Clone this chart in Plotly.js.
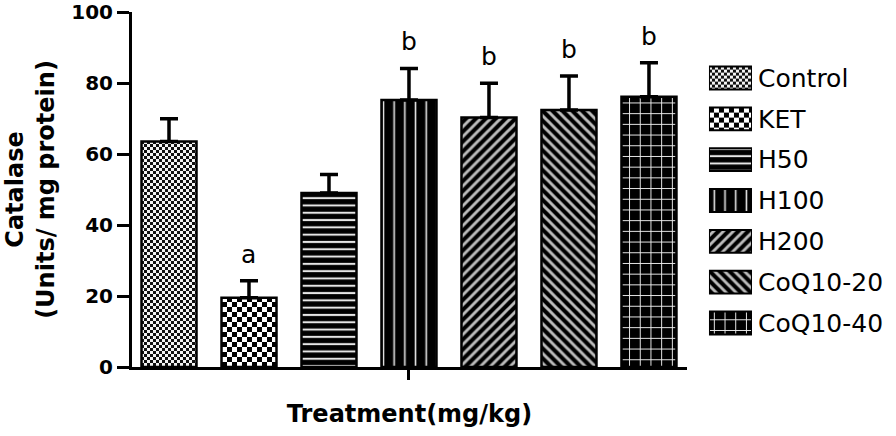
<!DOCTYPE html>
<html>
<head>
<meta charset="utf-8">
<script src="https://cdn.plot.ly/plotly-3.1.0.min.js"></script>
<style>html,body{margin:0;padding:0;background:#fff;}#chart{width:896px;height:436px;}</style>
</head>
<body>
<div id="chart"></div>
<script>
// ---- data ----
var groups  = ['Control', 'KET', 'H50', 'H100', 'H200', 'CoQ10-20', 'CoQ10-40'];
var means   = [63.5, 19.5, 49.0, 75.2, 70.3, 72.4, 76.1];
var sems    = [6.4, 4.8, 5.2, 8.9, 9.6, 9.6, 9.6];
var letters = ['', 'a', '', 'b', 'b', 'b', 'b'];
var swatchLength = [1, 1, 1, 1, 1, 1, 1];

// ---- styles ----
var patterns = [
  {path: 'M0,0H3V3H0ZM3,3H6V6H3Z', size: 6, fgcolor: '#111', bgcolor: '#f4f4f4'},
  {path: 'M0,0H5V5H0ZM5,5H10V10H5Z', size: 10, fgcolor: '#000', bgcolor: '#fff'},
  {shape: '-', size: 7.3, solidity: 0.28, fgcolor: '#e6e6e6', bgcolor: '#000'},
  {shape: '|', size: 10.7, solidity: 0.15, fgcolor: '#e6e6e6', bgcolor: '#000'},
  {shape: '/', size: 7, solidity: 0.42, fgcolor: '#bdbdbd', bgcolor: '#000'},
  {shape: '\\', size: 7, solidity: 0.42, fgcolor: '#bdbdbd', bgcolor: '#000'},
  {shape: '+', size: 10.7, solidity: 0.17, fgcolor: '#eeeeee', bgcolor: '#000'}
];
var FONT = 'DejaVu Sans';

var traces = [];
groups.forEach(function (g, i) {
  var pat = Object.assign({fillmode: 'replace'}, patterns[i]);
  traces.push({
    type: 'bar', x: [g], y: [means[i]], name: g, showlegend: false,
    xaxis: 'x', yaxis: 'y', width: 0.6875,
    marker: {color: pat.bgcolor, pattern: pat, line: {color: '#000', width: 2.5}},
    error_y: {type: 'data', symmetric: false, array: [sems[i]], arrayminus: [0],
              color: '#000', thickness: 3.5, width: 9},
    hoverinfo: 'skip'
  });
});
groups.forEach(function (g, i) {
  var pat = Object.assign({fillmode: 'replace'}, patterns[i]);
  traces.push({
    type: 'bar', orientation: 'h', y: [g], x: [swatchLength[i]], name: g, showlegend: false,
    xaxis: 'x2', yaxis: 'y2', width: 0.56,
    marker: {color: pat.bgcolor, pattern: pat, line: {color: '#000', width: 2}},
    hoverinfo: 'skip'
  });
});

var annotations = [];
groups.forEach(function (g, i) {
  if (!letters[i]) return;
  annotations.push({
    x: g, y: means[i] + sems[i], xref: 'x', yref: 'y', text: letters[i],
    showarrow: false, yanchor: 'bottom', yshift: 10,
    font: {family: FONT, size: 25, color: '#000'}
  });
});

var layout = {
  width: 896, height: 436,
  margin: {l: 132, r: 0, t: 12, b: 69},
  paper_bgcolor: '#fff', plot_bgcolor: '#fff',
  barmode: 'overlay', bargap: 0.3125,
  showlegend: false,
  xaxis: {
    domain: [0, 0.7264], type: 'category', range: [-0.4625, 6.475],
    showline: true, linecolor: '#000', linewidth: 3, showgrid: false, zeroline: false,
    ticks: 'outside', ticklen: 10, tickwidth: 3, tickcolor: '#000',
    tickvals: [groups[Math.floor(groups.length / 2)]], showticklabels: false,
    title: {text: 'Treatment(mg/kg)', font: {family: FONT, size: 24, weight: 'bold', color: '#000'}, standoff: 27},
    fixedrange: true
  },
  yaxis: {
    range: [0, 100], dtick: 20, tick0: 0,
    showline: true, linecolor: '#000', linewidth: 3, showgrid: false, zeroline: false,
    ticks: 'outside', ticklen: 12, tickwidth: 3, tickcolor: '#000',
    tickfont: {family: FONT, size: 20, weight: 'bold', color: '#000'},
    title: {text: 'Catalase<br>(Units/ mg protein)', font: {family: FONT, size: 24, weight: 'bold', color: '#000'}, standoff: 10},
    fixedrange: true
  },
  xaxis2: {domain: [0.7552, 0.8115], anchor: 'y2', range: [0, 1], visible: false, fixedrange: true},
  yaxis2: {
    domain: [0.0665, 0.8715], anchor: 'x2', type: 'category', autorange: 'reversed',
    side: 'right', showline: false, showgrid: false, zeroline: false, ticks: '',
    ticklabelstandoff: 5,
    tickfont: {family: FONT, size: 25, color: '#000'}, fixedrange: true
  },
  annotations: annotations,
  font: {family: FONT, color: '#000'}
};

Plotly.newPlot('chart', traces, layout, {displayModeBar: false, staticPlot: true});
</script>
</body>
</html>
